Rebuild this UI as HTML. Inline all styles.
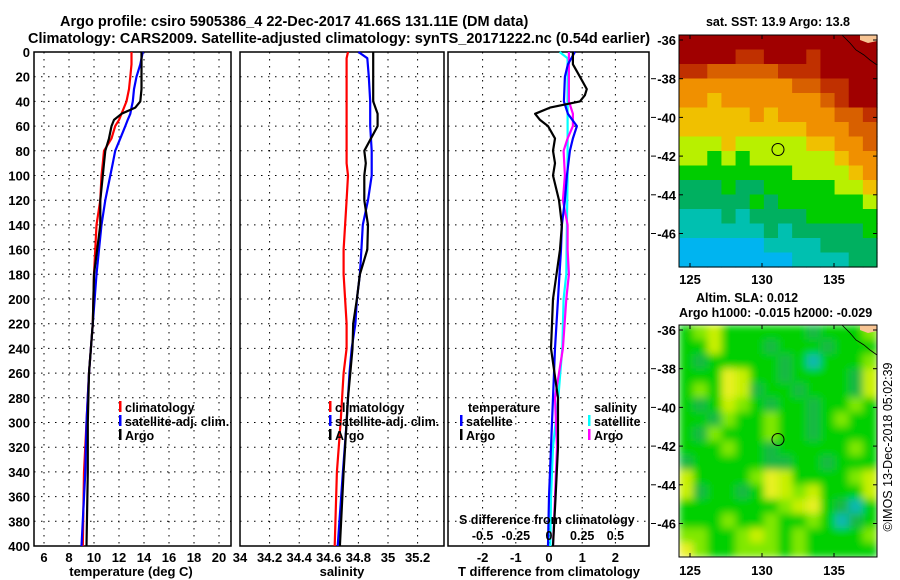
<!DOCTYPE html>
<html><head><meta charset="utf-8"><style>
html,body{margin:0;padding:0;background:#fff;}
svg{display:block;font-family:"Liberation Sans",Arial,sans-serif;font-weight:bold;}
</style></head><body>
<svg id="fig" width="900" height="580" viewBox="0 0 900 580" xmlns="http://www.w3.org/2000/svg">
<defs>
<filter id="slablur" filterUnits="userSpaceOnUse" x="679" y="325" width="198" height="232"><feGaussianBlur stdDeviation="4" edgeMode="duplicate"/></filter>
<clipPath id="slaclip"><rect x="679" y="325" width="198" height="232"/></clipPath>
</defs>
<text x="60" y="26" font-size="14.5">Argo profile: csiro 5905386_4 22-Dec-2017 41.66S 131.11E (DM data)</text>
<text x="28" y="43" font-size="14.5">Climatology: CARS2009. Satellite-adjusted climatology: synTS_20171222.nc (0.54d earlier)</text>
<g id="g"></g>
</svg>
<script>
// ---- profile data ----
const depthT=[0,10,20,30,40,45,50,55,60,70,80,90,100,120,140,180,220,260,300,340,400];
const tempArgo=[13.8,13.8,13.8,13.8,13.7,13.3,12.2,11.6,11.4,11.2,10.9,10.8,10.7,10.5,10.5,10.0,9.9,9.6,9.5,9.5,9.4];
const tempClim=[13.0,13.0,12.9,12.8,12.6,12.4,12.2,12.0,11.7,11.4,10.8,10.7,10.6,10.5,10.2,10.0,9.9,9.6,9.4,9.2,9.1];
const tempSat=[13.9,13.7,13.4,13.2,13.1,13.0,12.9,12.7,12.5,12.1,11.7,11.5,11.3,10.9,10.6,10.2,9.9,9.6,9.4,9.3,9.0];
const depthS=[0,5,20,40,50,60,80,90,100,120,140,160,180,200,220,240,260,280,300,340,400];
const salArgo=[34.9,34.9,34.9,34.9,34.93,34.93,34.84,34.85,34.84,34.84,34.865,34.86,34.81,34.79,34.765,34.76,34.745,34.73,34.72,34.7,34.675];
const salClim=[34.73,34.72,34.72,34.72,34.72,34.72,34.72,34.72,34.73,34.72,34.71,34.7,34.7,34.71,34.72,34.72,34.7,34.69,34.68,34.655,34.64];
const salSat=[34.8,34.86,34.87,34.88,34.88,34.88,34.89,34.89,34.89,34.865,34.83,34.82,34.81,34.79,34.78,34.755,34.74,34.73,34.72,34.695,34.66];
const depthDT=[0,10,20,30,35,40,45,50,55,60,70,80,90,100,120,140,160,200,240,280,320,360,400];
const dTArgo=[0.72,0.72,0.93,1.14,1.08,0.93,0.03,-0.42,-0.27,-0.03,0.18,0.12,0.18,0.12,0.30,0.39,0.33,0.12,0.06,0.27,0.27,0.2,0.12];
const depthDTs=[0,10,20,40,50,60,70,80,100,120,140,160,200,240,280,320,360,400];
const dTSat=[0.78,0.57,0.48,0.45,0.57,0.84,0.72,0.63,0.54,0.48,0.39,0.36,0.27,0.18,0.12,0.06,0.0,-0.03];
const depthDSa=[0,20,40,50,60,70,80,100,120,140,160,180,200,240,260,280,320,360,400];
const dSArgo=[0.15,0.15,0.15,0.18,0.18,0.14,0.11,0.12,0.105,0.14,0.14,0.15,0.13,0.105,0.075,0.045,0.06,0.045,0.03];
const depthDSs=[0,5,20,60,100,140,180,200,240,280,320,360,400];
const dSSat=[0.08,0.14,0.14,0.14,0.14,0.135,0.13,0.11,0.10,0.07,0.03,0.015,0.01];
const depthTicks=[0,20,40,60,80,100,120,140,160,180,200,220,240,260,280,300,320,340,360,380,400];
const tempTicks=[6,8,10,12,14,16,18,20];
const salTicks=[34,34.2,34.4,34.6,34.8,35,35.2];
const dTTicks=[-2,-1,0,1,2];
const dSTicks=[-0.5,-0.25,0,0.25,0.5];
// ---- maps ----
const sstRows=["99999999999999","99998899989999","88777778889999","66666666778899","66566666667899","55555656666778","55555555566677","44454444455667","44343444444566","33333333444456","22232233333445","22222323333334","11121222233333","11111121222223","00000011112222","00000000111122"];
const sstColors=["#00b4f0","#00c0b0","#00b060","#00cc00","#b8f000","#f0c000","#f09000","#d86000","#c03000","#a00000"];
const slaRows=["23422222212223","22422212221222","21222221202223","22254221222214","23254122122214","21243212212232","22132232212322","21322232212222","22232212222232","12222211221222","42222354222234","41221254342224","22222223452102","22232232232012","33223432322223","53223332322222"];
const slaColors=["#10b8b0","#14b844","#00d000","#80e800","#c8f000","#e8f020"];
const lonTicks=[125,130,135];
const latTicks=[-36,-38,-40,-42,-44,-46];
const argoLon=131.11, argoLat=-41.66;

const NS="http://www.w3.org/2000/svg";
const G=document.getElementById('g');
function el(tag,attrs,parent){const e=document.createElementNS(NS,tag);for(const k in attrs)e.setAttribute(k,attrs[k]);(parent||G).appendChild(e);return e;}
function txt(x,y,s,size,anchor,parent){const t=el('text',{x:x,y:y,'font-size':size,'text-anchor':anchor||'start'},parent);t.textContent=s;return t;}

const TOP=52,BOT=546;
const yD=d=>TOP+d*1.235;
const xT=t=>44+(t-6)*12.5;
const xS=s=>240+(s-34)*148;
const xdT=v=>549+v*33.2;
const xdS=v=>549+v*132.8;

function panel(x0,x1,name,vx){
  const g=el('g',{});
  
  
  depthTicks.forEach(d=>{ if(d>0&&d<400){const l=el('line',{x1:x0,x2:x1,y1:yD(d),y2:yD(d),stroke:'#000','stroke-width':1,'stroke-dasharray':'1.5 5.5'},g);
    
    }});
  vx.forEach(x=>{ if(x>x0+2&&x<x1-2){const l=el('line',{x1:x,x2:x,y1:TOP,y2:BOT,stroke:'#000','stroke-width':1,'stroke-dasharray':'1.5 5.5'},g);
    
    }});
  const r=el('rect',{x:x0,y:TOP,width:x1-x0,height:BOT-TOP,fill:'none',stroke:'#000','stroke-width':1.5},g);
  
  
  return g;
}
function line(depths,vals,xf,color,name){
  const pts=depths.map((d,i)=>xf(vals[i]).toFixed(1)+','+yD(d).toFixed(1)).join(' ');
  const p=el('polyline',{points:pts,fill:'none',stroke:color,'stroke-width':2.2,'stroke-linejoin':'round'});
  
  
}
function legendEntry(x,y,color,label,name){
  const g=el('g',{});
  
  
  if(color) el('rect',{x:x,y:y-11,width:2.5,height:11,fill:color},g);
  txt(x+6,y,label,12.5,'start',g);
}

// Panel 1 temperature
panel(34,231,'temperature-panel',tempTicks.map(xT));
depthTicks.forEach(d=>{const t=txt(30,yD(d)+5,String(d),13,'end');
  
  });
tempTicks.forEach(v=>{const t=txt(xT(v),562,String(v),13,'middle');
  
  });
let t1=txt(131,576,'temperature (deg C)',13,'middle');


line(depthT,tempClim,xT,'#ff0000','temp-climatology-line');
line(depthT,tempSat,xT,'#0000ff','temp-satellite-line');
line(depthT,tempArgo,xT,'#000000','temp-argo-line');
legendEntry(119,412,'#ff0000','climatology','legend-climatology');
legendEntry(119,426,'#0000ff','satellite-adj. clim.','legend-satellite');
legendEntry(119,440,'#000000','Argo','legend-argo');

// Panel 2 salinity
panel(240,444,'salinity-panel',salTicks.map(xS));
salTicks.forEach(v=>{const t=txt(xS(v),562,String(v),13,'middle');
  
  });
let t2=txt(342,576,'salinity',13,'middle');


line(depthS,salClim,xS,'#ff0000','sal-climatology-line');
line(depthS,salSat,xS,'#0000ff','sal-satellite-line');
line(depthS,salArgo,xS,'#000000','sal-argo-line');
legendEntry(329,412,'#ff0000','climatology','legend-sal-climatology');
legendEntry(329,426,'#0000ff','satellite-adj. clim.','legend-sal-satellite');
legendEntry(329,440,'#000000','Argo','legend-sal-argo');

// Panel 3 differences
panel(448,649,'difference-panel',dTTicks.map(xdT));
dTTicks.forEach(v=>{const t=txt(xdT(v),562,String(v),13,'middle');
  
  });
let t3=txt(549,576,'T difference from climatology',13,'middle');


line(depthDSs,dSSat,xdS,'#00ffff','dS-satellite-line');
line(depthDSa,dSArgo,xdS,'#ff00ff','dS-argo-line');
line(depthDTs,dTSat,xdT,'#0000ff','dT-satellite-line');
line(depthDT,dTArgo,xdT,'#000000','dT-argo-line');
let t4=txt(459,524,'S difference from climatology',12.5,'start');


dSTicks.forEach(v=>{const t=txt(xdS(v),540,String(v),12.5,'middle');
  
  });
let t5=txt(468,412,'temperature',12.5,'start');


let t6=txt(594,412,'salinity',12.5,'start');


legendEntry(460,426,'#0000ff','satellite','legend-dT-satellite');
legendEntry(460,440,'#000000','Argo','legend-dT-argo');
legendEntry(588,426,'#00ffff','satellite','legend-dS-satellite');
legendEntry(588,440,'#ff00ff','Argo','legend-dS-argo');

// Maps
function map(y0,rows,colors,name,titleLines,lonLabelY,smooth){
  const X0=679,X1=877,H=232;
  const xL=lon=>690+(lon-125)*14.4;
  const yL=lat=>y0+5+(-36-lat)*19.35;
  const g=el('g',{});
  
  
  const cg=el('g',smooth?{'clip-path':'url(#slaclip)'}:{},g);
  const cg2=el('g',smooth?{filter:'url(#slablur)'}:{},cg);
  const nr=rows.length,nc=rows[0].length,cw=(X1-X0)/nc,ch=H/nr;
  rows.forEach((row,r)=>{for(let c=0;c<nc;c++){
    const cell=el('rect',{x:(X0+c*cw).toFixed(2),y:(y0+r*ch).toFixed(2),width:(cw+0.6).toFixed(2),height:(ch+0.6).toFixed(2),fill:colors[+row[c]]},cg2);
    
    
  }});
  const land=el('path',{d:`M860 ${y0} L877 ${y0} L877 ${y0+6} L868 ${y0+8} L860 ${y0+5} Z`,fill:'#f7c493'},g);
  
  
  const coast=el('polyline',{points:`842,${y0} 850,${y0+8} 856,${y0+15} 864,${y0+20} 870,${y0+25} 877,${y0+30}`,fill:'none',stroke:'#000','stroke-width':0.8},g);
  
  
  const c=el('circle',{cx:xL(argoLon),cy:yL(argoLat),r:6,fill:'none',stroke:'#000','stroke-width':1},g);
  
  
  el('rect',{x:X0,y:y0,width:X1-X0,height:H,fill:'none',stroke:'#000','stroke-width':1},g);
  latTicks.forEach(v=>{const y=yL(v);
    el('line',{x1:X0,x2:X0+4,y1:y,y2:y,stroke:'#000'},g);el('line',{x1:X1,x2:X1-4,y1:y,y2:y,stroke:'#000'},g);
    if(v!==-36) el('line',{x1:651,x2:656,y1:y,y2:y,stroke:'#000'},g);
    const t=txt(676,y+5,String(v),13,'end',g);
    
    });
  lonTicks.forEach(v=>{const x=xL(v);
    el('line',{x1:x,x2:x,y1:y0+H,y2:y0+H-4,stroke:'#000'},g);el('line',{x1:x,x2:x,y1:y0,y2:y0+4,stroke:'#000'},g);
    const t=txt(x,lonLabelY,String(v),13,'middle',g);
    
    });
  titleLines.forEach(([x,y,s,a])=>{const t=txt(x,y,s,12.5,a,g);
    
    });
}
map(35,sstRows,sstColors,'sst-map',[[778,26,'sat. SST: 13.9 Argo: 13.8','middle']],284,false);
map(325,slaRows,slaColors,'sla-map',[[696,302,'Altim. SLA: 0.012','start'],[679,317,'Argo h1000: -0.015 h2000: -0.029','start']],575,true);
const cr=txt(0,0,'©IMOS 13-Dec-2018 05:02:39',12.5,'middle');
cr.setAttribute('transform','translate(892,447) rotate(-90)');
cr.setAttribute('font-weight','normal');


</script>
</body></html>
